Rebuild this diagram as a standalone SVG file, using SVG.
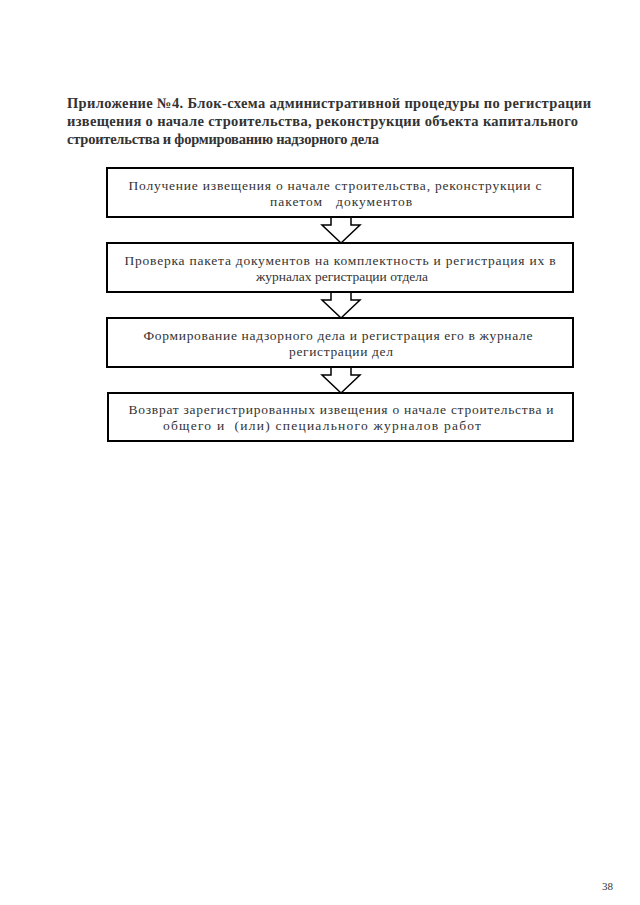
<svg xmlns="http://www.w3.org/2000/svg" width="640" height="905" viewBox="0 0 640 905">
<style>
.title{font-family:"Liberation Serif","DejaVu Serif",serif;font-weight:bold;font-size:14.5px;fill:#333}
.box{fill:#fff;stroke:#000;stroke-width:2}
.txt{font-family:"Liberation Serif","DejaVu Serif",serif;font-size:13.5px;fill:#333;text-anchor:middle}
.arr{fill:#fff;stroke:#000;stroke-width:1.5;stroke-linejoin:miter}
.pg{font-family:"Liberation Serif","DejaVu Serif",serif;font-size:11px;fill:#333}
</style>
<rect width="640" height="905" fill="#fff"/>
<g id="title">
<text class="title" x="67" y="108" textLength="524" lengthAdjust="spacing">Приложение №4. Блок-схема административной процедуры по регистрации</text>
<text class="title" x="67" y="126" textLength="511" lengthAdjust="spacing">извещения о начале строительства, реконструкции объекта капитального</text>
<text class="title" x="67" y="144" textLength="312" lengthAdjust="spacing">строительства и формированию надзорного дела</text>
</g>
<g id="connectors">
<path class="arr" d="M331,217 V225 H322 L341,243 L360,225 H351 V217"/>
<path class="arr" d="M331,292 V300 H322 L341,318 L360,300 H351 V292"/>
<path class="arr" d="M331,367 V375 H322 L341,393 L360,375 H351 V367"/>
</g>
<g id="n1">
<rect class="box" x="107" y="168" width="466" height="49"/>
<text class="txt" x="335" y="190" textLength="413" lengthAdjust="spacing">Получение извещения о начале строительства, реконструкции с</text>
<text class="txt" x="341" y="206" textLength="142" lengthAdjust="spacing" xml:space="preserve">пакетом   документов</text>
</g>
<g id="n2">
<rect class="box" x="107" y="243" width="466" height="49"/>
<text class="txt" x="340" y="265" textLength="431" lengthAdjust="spacing">Проверка пакета документов на комплектность и регистрация их в</text>
<text class="txt" x="342" y="281" textLength="172" lengthAdjust="spacing">журналах регистрации отдела</text>
</g>
<g id="n3">
<rect class="box" x="107" y="318" width="466" height="49"/>
<text class="txt" x="338" y="340" textLength="389" lengthAdjust="spacing">Формирование надзорного дела и регистрация его в журнале</text>
<text class="txt" x="341" y="356" textLength="104" lengthAdjust="spacing">регистрации дел</text>
</g>
<g id="n4">
<rect class="box" x="108" y="393" width="465" height="48"/>
<text class="txt" x="341" y="414" textLength="425" lengthAdjust="spacing">Возврат зарегистрированных извещения о начале строительства и</text>
<text class="txt" x="322" y="430" textLength="318" lengthAdjust="spacing" xml:space="preserve">общего и  (или) специального журналов работ</text>
</g>
<text class="pg" x="602" y="890">38</text>
</svg>
